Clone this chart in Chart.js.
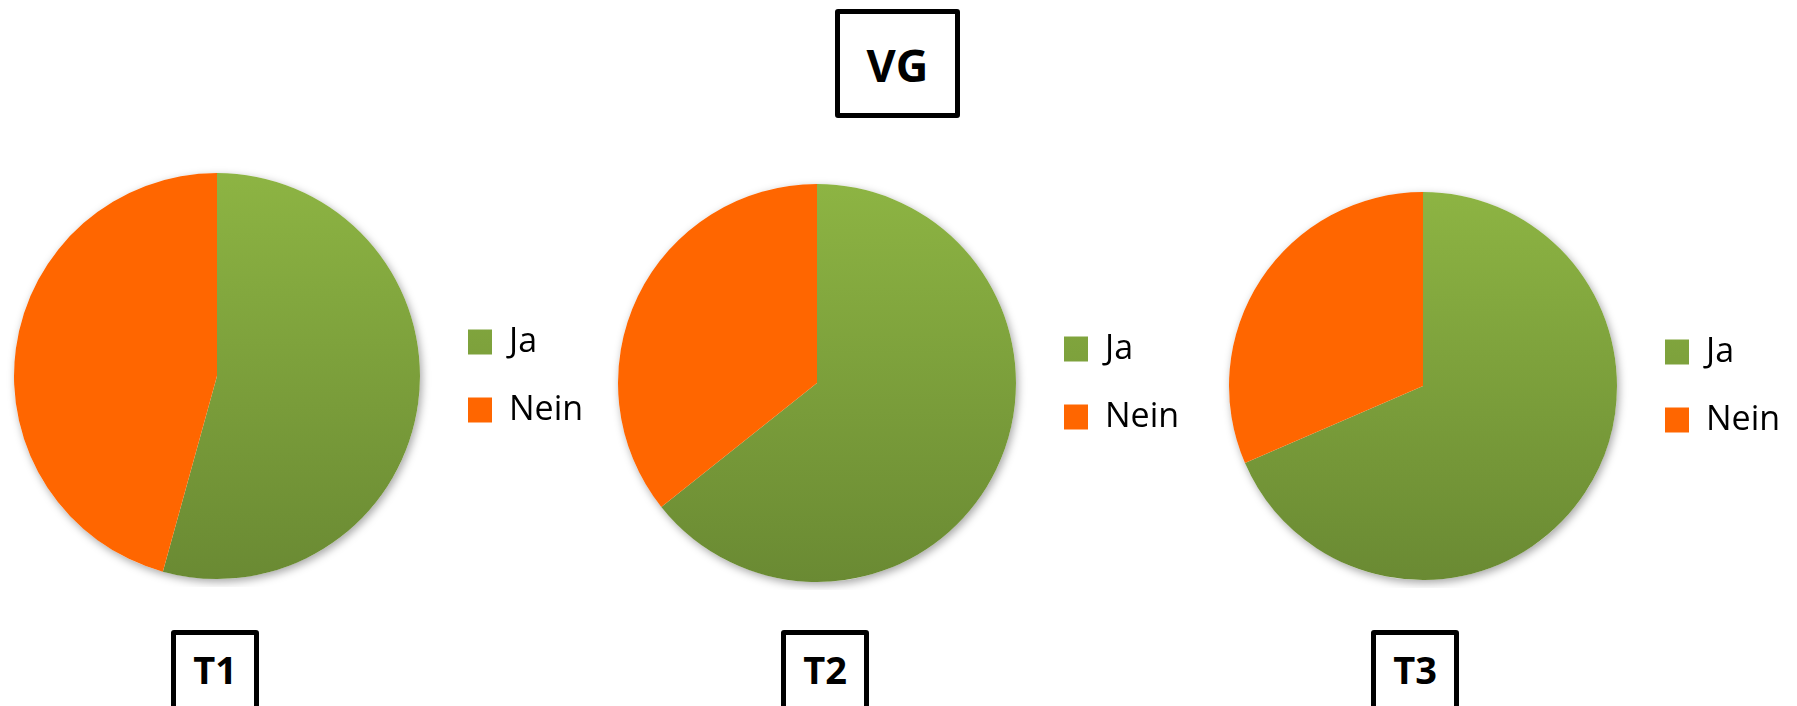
<!DOCTYPE html>
<html lang="de">
<head>
<meta charset="utf-8">
<title>VG</title>
<script src="https://cdn.jsdelivr.net/npm/chart.js@4/dist/chart.umd.min.js"></script>
<style>
  html, body { margin: 0; padding: 0; background: #fff; }
  body { width: 1797px; height: 706px; position: relative; overflow: hidden; font-family: "Open Sans", sans-serif; }
  .frame { position: absolute; }
  .label {
    position: absolute;
    box-sizing: border-box;
    border: 5px solid #000;
    border-radius: 3px;
    text-align: center;
    font-weight: bold;
    line-height: 1;
    color: #000;
  }
  #vg { left: 835px; top: 9px; width: 125px; height: 109px; font-size: 45px; padding-top: 28px; }
  .t { top: 630px; width: 88px; height: 110px; font-size: 38px; padding-top: 15px; }
</style>
</head>
<body>
<div class="label" id="vg"></div>

<script>
const groupTitle = 'VG';
const answers = ['Ja', 'Nein'];
const timepoints = ['T1', 'T2', 'T3'];
const jaShare = [54.3, 64.3, 68.5];
const neinShare = [45.7, 35.7, 31.5];

// where each pie + legend sits on the page, and where its caption box goes
const frames = [
  { left: -8, top: 165, width: 592, height: 422, caption: 171 },
  { left: 596, top: 176, width: 584, height: 414, caption: 781 },
  { left: 1207, top: 184, width: 574, height: 404, caption: 1371 }
];

Chart.defaults.color = '#000';
Chart.defaults.font.family = '"Open Sans", sans-serif';

document.getElementById('vg').textContent = groupTitle;

// "Ja" gets a top-to-bottom green gradient, "Nein" is flat orange
function sliceFill(context) {
  if (context.dataIndex === 1) return '#ff6600';
  const {ctx, chartArea} = context.chart;
  if (!chartArea) return '#7ca23a';
  const g = ctx.createLinearGradient(0, chartArea.top, 0, chartArea.bottom);
  g.addColorStop(0, '#8db443');
  g.addColorStop(1, '#6a8a33');
  return g;
}

// soft drop shadow under the whole disc
const pieShadow = {
  id: 'pieShadow',
  beforeDatasetsDraw(chart) {
    const arc = chart.getDatasetMeta(0).data[0];
    if (!arc) return;
    const ctx = chart.ctx;
    ctx.save();
    ctx.shadowColor = 'rgba(0, 0, 0, 0.35)';
    ctx.shadowBlur = 9;
    ctx.shadowOffsetX = 2;
    ctx.shadowOffsetY = 3;
    ctx.fillStyle = '#fff';
    ctx.beginPath();
    ctx.arc(arc.x, arc.y, arc.outerRadius, 0, Math.PI * 2);
    ctx.fill();
    ctx.restore();
  }
};

timepoints.forEach((tp, i) => {
  const f = frames[i];

  const box = document.createElement('div');
  box.style.cssText = `left:${f.left}px;top:${f.top}px;width:${f.width}px;height:${f.height}px`;
  box.className = 'frame';
  const canvas = document.createElement('canvas');
  box.appendChild(canvas);
  document.body.appendChild(box);

  const cap = document.createElement('div');
  cap.className = 'label t';
  cap.style.left = f.caption + 'px';
  cap.textContent = tp;
  document.body.appendChild(cap);

  new Chart(canvas, {
    type: 'pie',
    data: {
      labels: answers,
      datasets: [{
        data: [jaShare[i], neinShare[i]],
        backgroundColor: sliceFill,
        borderWidth: 0
      }]
    },
    options: {
      responsive: true,
      maintainAspectRatio: false,
      animation: false,
      layout: { padding: { top: 8, bottom: 8, left: 8 } },
      plugins: {
        tooltip: { enabled: false },
        legend: {
          position: 'right',
          maxWidth: 150,
          labels: {
            boxWidth: 24,
            boxHeight: 25,
            padding: 34,
            font: { size: 34 }
          }
        }
      }
    },
    plugins: [pieShadow]
  });
});
</script>
</body>
</html>
